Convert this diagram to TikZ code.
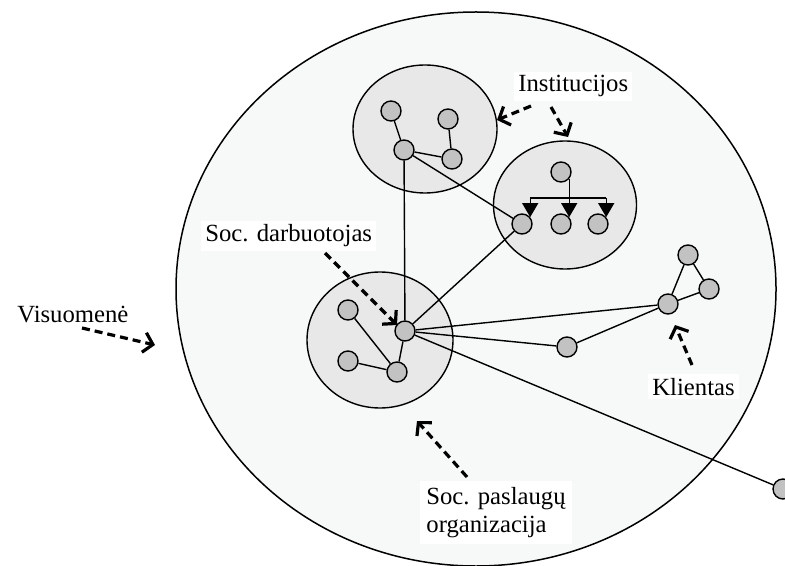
\documentclass[tikz,border=0pt]{standalone}
\usepackage{fontspec}
\setmainfont{Liberation Serif}
\usetikzlibrary{arrows.meta,shapes.geometric}
\definecolor{societyfill}{HTML}{F7F9F9}
\definecolor{groupfill}{HTML}{E8E8E8}
\definecolor{memberfill}{HTML}{C2C2C2}
\begin{document}
\begin{tikzpicture}[x=0.5pt,y=-0.5pt,
  member/.style={circle, draw, line width=0.7pt, fill=memberfill, minimum size=10pt, inner sep=0pt},
  group/.style={ellipse, draw, line width=0.7pt, fill=groupfill, inner sep=0pt},
  tie/.style={line width=0.7pt},
  pointer/.style={line width=1.6pt, dash pattern=on 4pt off 2.5pt, -{Straight Barb[length=4.5pt,width=10pt]}},
  caption/.style={font=\fontsize{12.35}{14}\selectfont, fill=white, inner sep=2pt, align=left}
]
\useasboundingbox (0,0) rectangle (785,566);

% society
\node[ellipse, draw, line width=0.75pt, fill=societyfill, inner sep=0pt,
      minimum width=300pt, minimum height=277pt] (society) at (476,289) {};

% groups
\node[group, minimum width=72pt, minimum height=64pt] (instA) at (425,129) {};
\node[group, minimum width=71.5pt, minimum height=64pt] (instB) at (565,205) {};
\node[group, minimum width=73pt, minimum height=68pt] (org) at (380,340) {};

% members of the first institution
\node[member] (a1) at (391,111) {};
\node[member] (a2) at (448,119) {};
\node[member] (a3) at (404,150) {};
\node[member] (a4) at (452,159) {};

% members of the second institution
\node[member] (b0) at (561,172) {};
\node[member] (b1) at (522,224) {};
\node[member] (b2) at (561,224) {};
\node[member] (b3) at (598,224) {};

% organisation
\node[member] (sw) at (405,331) {};
\node[member] (o1) at (348,310) {};
\node[member] (o2) at (348,361) {};
\node[member] (o3) at (397,372) {};

% clients
\node[member] (m)  at (567,347) {};
\node[member] (k)  at (668,304) {};
\node[member] (k1) at (688,255) {};
\node[member] (k2) at (709,289) {};
\node[member] (far) at (783,489) {};

% ties
\draw[tie] (a1) -- (a3);
\draw[tie] (a2) -- (a4);
\draw[tie] (a3) -- (a4);
\draw[tie] (a3) -- (sw);
\draw[tie] (a3) -- (b1);
\draw[tie] (sw) -- (b1);
\draw[tie] (o1) -- (o3);
\draw[tie] (o2) -- (o3);
\draw[tie] (o3) -- (sw);
\draw[tie] (sw) -- (k);
\draw[tie] (sw) -- (m);
\draw[tie] (m) -- (k);
\draw[tie] (k) -- (k1);
\draw[tie] (k1) -- (k2);
\draw[tie] (k) -- (k2);
\draw[tie] (sw) -- (far);

% hierarchy inside the second institution
\coordinate (bary) at (0,198);
\draw[tie] (b0.-40) -- (b0.-40 |- bary);
\draw[tie] (b1.40 |- bary) -- (b3.40 |- bary);
\foreach \n in {b1,b2,b3}
  \draw[tie, -{Triangle[length=7pt,width=8pt]}] (\n.40 |- bary) -- (\n.40);

% captions
\node[caption, anchor=base west] (lInst) at (514,92) {Institucijos};
\node[caption, anchor=base west] (lSw) at (201,242) {Soc. darbuotojas};
\node[caption, anchor=base west, fill=none] (lSoc) at (13,322) {Visuomenė};
\node[caption, anchor=base west] (lCl) at (648,395) {Klientas};
\node[caption, anchor=north west, inner sep=3pt] (lOrg) at (420,481) {Soc. paslaugų\\organizacija};

% pointers
\coordinate (pInstA0) at (531,106);  \coordinate (pInstA1) at (497,120);
\coordinate (pInstB0) at (551,107);  \coordinate (pInstB1) at (568,137);
\coordinate (pSw0) at (325,253);     \coordinate (pSw1) at (397,325);
\coordinate (pSoc0) at (82,328);     \coordinate (pSoc1) at (155,345);
\coordinate (pCl0) at (692,365);     \coordinate (pCl1) at (675,325);
\coordinate (pOrg0) at (467,477);    \coordinate (pOrg1) at (417,421);
\draw[pointer] (pInstA0) -- (pInstA1);
\draw[pointer] (pInstB0) -- (pInstB1);
\draw[pointer] (pSw0) -- (pSw1);
\draw[pointer] (pSoc0) -- (pSoc1);
\draw[pointer] (pCl0) -- (pCl1);
\draw[pointer] (pOrg0) -- (pOrg1);
\end{tikzpicture}
\end{document}
